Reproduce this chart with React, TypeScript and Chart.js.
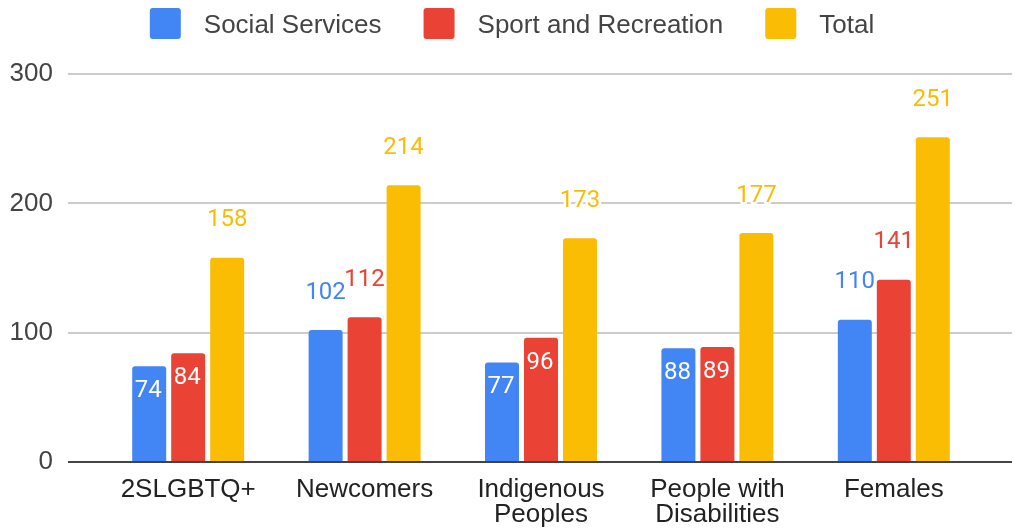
import React, { useEffect, useRef } from "react";
import { Chart, registerables } from "chart.js";

Chart.register(...registerables);

// ---- data ----
const categories: (string | string[])[] = [
  "2SLGBTQ+",
  "Newcomers",
  ["Indigenous", "Peoples"],
  ["People with", "Disabilities"],
  "Females",
];
const seriesNames = ["Social Services", "Sport and Recreation", "Total"];
const socialServices = [74, 102, 77, 88, 110];
const sportAndRecreation = [84, 112, 96, 89, 141];
const total = [158, 214, 173, 177, 251];
const yTickValues = [0, 100, 200, 300];

const seriesColors = ["#4285F4", "#EA4335", "#FBBC04"];
const AXIS_FONT = '"Liberation Sans", Arial, sans-serif';
const LABEL_FONT = 'Roboto, "Liberation Sans", Arial, sans-serif';

// gridlines reach past the category area, as in the reference
const GRID_LEFT = 68;
const GRID_RIGHT = 1012;

const gridPlugin = {
  id: "wideGrid",
  beforeDatasetsDraw(chart: any) {
    const ctx = chart.ctx as CanvasRenderingContext2D;
    const y = chart.scales.y;
    ctx.save();
    yTickValues.forEach((v) => {
      if (v === 0) return;
      const py = Math.round(y.getPixelForValue(v));
      ctx.strokeStyle = "#cccccc";
      ctx.lineWidth = 2;
      ctx.beginPath();
      ctx.moveTo(GRID_LEFT, py);
      ctx.lineTo(GRID_RIGHT, py);
      ctx.stroke();
    });
    ctx.restore();
  },
  afterDatasetsDraw(chart: any) {
    const ctx = chart.ctx as CanvasRenderingContext2D;
    const y = chart.scales.y;
    const py = Math.round(y.getPixelForValue(0));
    ctx.save();
    ctx.strokeStyle = "#444444";
    ctx.lineWidth = 2;
    ctx.beginPath();
    ctx.moveTo(GRID_LEFT, py);
    ctx.lineTo(GRID_RIGHT, py);
    ctx.stroke();
    ctx.restore();
  },
};

const legendPlugin = {
  id: "customLegend",
  afterDraw(chart: any) {
    const ctx = chart.ctx as CanvasRenderingContext2D;
    ctx.save();
    ctx.font = `26px ${AXIS_FONT}`;
    const box = 31;
    const gapText = 23;
    const gapItem = 42;
    const names = chart.data.datasets.map((d: any) => d.label as string);
    const widths = names.map((n: string) => ctx.measureText(n).width);
    let totalW = 0;
    widths.forEach((w: number, i: number) => {
      totalW += box + gapText + w + (i < widths.length - 1 ? gapItem : 0);
    });
    let x = (chart.width - totalW) / 2 + 3;
    names.forEach((n: string, i: number) => {
      ctx.fillStyle = chart.data.datasets[i].backgroundColor;
      ctx.beginPath();
      (ctx as any).roundRect(x, 8, box, box, 3);
      ctx.fill();
      ctx.fillStyle = "#444444";
      ctx.textAlign = "left";
      ctx.textBaseline = "alphabetic";
      ctx.fillText(n, x + box + gapText, 33);
      x += box + gapText + widths[i] + gapItem;
    });
    ctx.restore();
  },
};

const dataLabelPlugin = {
  id: "dataLabels",
  afterDatasetsDraw(chart: any) {
    const ctx = chart.ctx as CanvasRenderingContext2D;
    ctx.save();
    ctx.font = `24px ${LABEL_FONT}`;
    ctx.textAlign = "center";
    ctx.textBaseline = "alphabetic";
    ctx.lineJoin = "round";
    chart.data.datasets.forEach((ds: any, i: number) => {
      const meta = chart.getDatasetMeta(i);
      meta.data.forEach((bar: any, j: number) => {
        const v = ds.data[j];
        const text = String(v);
        const color = ds.backgroundColor;
        if (v < 100) {
          const ty = bar.y + 31;
          ctx.strokeStyle = color;
          ctx.lineWidth = 4;
          ctx.strokeText(text, bar.x - 1, ty);
          ctx.fillStyle = "#ffffff";
          ctx.fillText(text, bar.x - 1, ty);
        } else {
          const ty = bar.y - 31.5;
          ctx.strokeStyle = "#ffffff";
          ctx.lineWidth = 5;
          ctx.strokeText(text, bar.x, ty);
          ctx.fillStyle = color;
          ctx.fillText(text, bar.x, ty);
        }
      });
    });
    ctx.restore();
  },
};

export default function App() {
  const canvasRef = useRef<HTMLCanvasElement | null>(null);

  useEffect(() => {
    document.body.style.margin = "0";
    const canvas = canvasRef.current;
    if (!canvas) return;
    const seriesValues = [socialServices, sportAndRecreation, total];
    const chart = new Chart(canvas, {
      type: "bar",
      data: {
        labels: categories as any,
        datasets: seriesValues.map((vals, i) => ({
          label: seriesNames[i],
          data: vals,
          backgroundColor: seriesColors[i],
          borderRadius: 3,
          borderSkipped: "start",
          categoryPercentage: 0.663,
          barPercentage: 0.872,
        })),
      },
      options: {
        animation: false,
        responsive: false,
        devicePixelRatio: 1,
        layout: { padding: { top: 74, left: 10, right: 36, bottom: 3 } },
        plugins: {
          legend: { display: false },
          tooltip: { enabled: false },
          title: { display: false },
        },
        scales: {
          x: {
            type: "category",
            offset: true,
            grid: { display: false, drawTicks: false },
            border: { display: false },
            afterFit: (axis: any) => {
              axis.height = 66;
              axis.paddingLeft = 0;
              axis.paddingRight = 0;
            },
            ticks: {
              autoSkip: false,
              maxRotation: 0,
              padding: 15,
              color: "#222222",
              font: { family: AXIS_FONT, size: 26, lineHeight: 0.96 },
            },
          },
          y: {
            min: 0,
            max: 300,
            afterBuildTicks: (axis: any) => {
              axis.ticks = yTickValues.map((v) => ({ value: v }));
            },
            afterFit: (axis: any) => {
              axis.width = 90;
            },
            grid: { display: false, drawTicks: false },
            border: { display: false },
            ticks: {
              padding: 47,
              color: "#444444",
              font: { family: AXIS_FONT, size: 26 },
            },
          },
        },
      } as any,
      plugins: [gridPlugin, legendPlugin, dataLabelPlugin],
    });
    return () => chart.destroy();
  }, []);

  return (
    <div style={{ position: "absolute", left: 0, top: 0, width: 1018, height: 531 }}>
      <canvas ref={canvasRef} width={1018} height={531} style={{ width: 1018, height: 531 }} />
    </div>
  );
}
